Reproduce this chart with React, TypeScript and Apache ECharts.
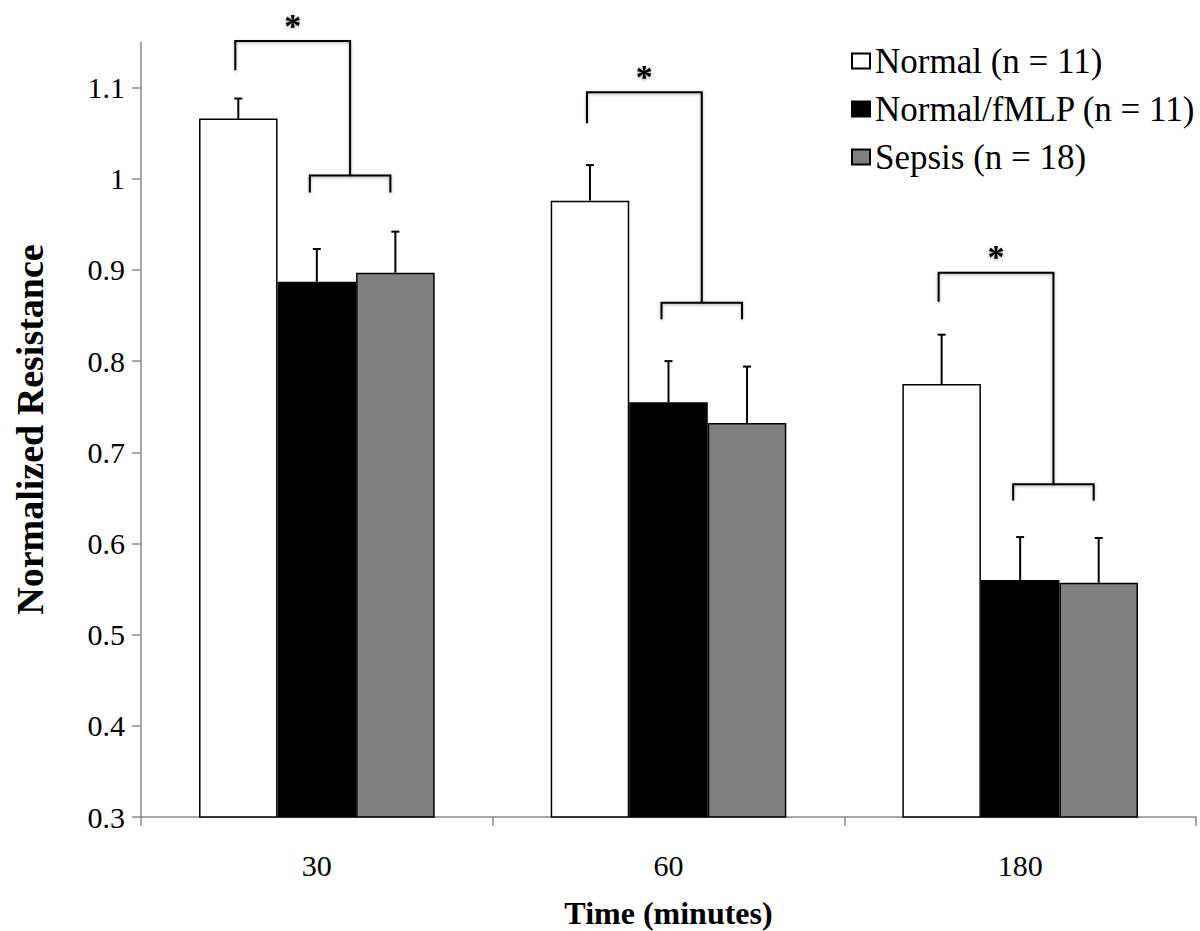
import React, { useEffect, useRef } from "react";
import * as echarts from "echarts";

const categories = ["30", "60", "180"];
const seriesNames = ["Normal (n = 11)", "Normal/fMLP (n = 11)", "Sepsis (n = 18)"];
const normalValues = [1.066, 0.976, 0.775];
const fmlpValues = [0.887, 0.755, 0.56];
const sepsisValues = [0.897, 0.732, 0.557];
const normalErr = [0.022, 0.039, 0.054];
const fmlpErr = [0.036, 0.045, 0.047];
const sepsisErr = [0.045, 0.062, 0.049];
const yTicks = [0.3, 0.4, 0.5, 0.6, 0.7, 0.8, 0.9, 1.0, 1.1];
// significance brackets (values on the resistance scale)
const bracketTop = [1.151, 1.095, 0.897];
const bracketLeftEnd = [1.119, 1.061, 0.865];
const bracketLow = [1.0035, 0.864, 0.665];
const bracketLowEnd = [0.985, 0.846, 0.647];

const FONT = '"Liberation Serif", "Times New Roman", serif';
const CAT_GAP = 0.33;

function errorSeries(values: number[], errs: number[], slot: number) {
  return {
    type: "custom",
    coordinateSystem: "cartesian2d",
    silent: true,
    z: 5,
    data: values.map((v, i) => [i, v, v + errs[i]]),
    encode: { x: 0, y: 1 },
    renderItem: (params: any, api: any) => {
      const i = api.value(0);
      const band = api.size([1, 0])[0];
      const bw = (band * (1 - CAT_GAP)) / 3;
      const cx = api.coord([i, 0])[0] + (slot - 1) * bw;
      const y0 = api.coord([i, api.value(1)])[1];
      const y1 = api.coord([i, api.value(2)])[1];
      const st = { stroke: "#000", lineWidth: 2 };
      return {
        type: "group",
        children: [
          { type: "line", shape: { x1: cx, y1: y0, x2: cx, y2: y1 }, style: st },
          { type: "line", shape: { x1: cx - 4, y1: y1, x2: cx + 4, y2: y1 }, style: st },
        ],
      };
    },
  };
}

export default function App() {
  const ref = useRef<HTMLDivElement>(null);
  useEffect(() => {
    if (!ref.current) return;
    const chart = echarts.init(ref.current, undefined, { renderer: "svg" });
    const barBase = {
      type: "bar",
      barGap: "0%",
      barCategoryGap: "33%",
    };
    const lineStyle = {
      stroke: "#000",
      lineWidth: 2,
      fill: null,
      shadowBlur: 3,
      shadowColor: "rgba(0,0,0,0.35)",
      shadowOffsetY: 1,
    };
    chart.setOption({
      animation: false,
      backgroundColor: "#fff",
      grid: { left: 141, right: 4, top: 42, bottom: 114, containLabel: false, outerBoundsMode: "none" },
      legend: {
        orient: "vertical",
        left: 846,
        top: 38,
        icon: "rect",
        itemWidth: 18,
        itemHeight: 15,
        itemGap: 12,
        data: seriesNames,
        textStyle: { fontFamily: FONT, fontSize: 35, color: "#000", lineHeight: 36 },
      },
      xAxis: {
        type: "category",
        data: categories,
        name: "Time (minutes)",
        nameLocation: "middle",
        nameGap: 80,
        nameTextStyle: { fontFamily: FONT, fontSize: 32, fontWeight: "bold", color: "#000" },
        axisLine: { lineStyle: { color: "#8a8a8a", width: 1.5 } },
        axisTick: { show: true, length: 9, lineStyle: { color: "#8a8a8a", width: 1.5 } },
        axisLabel: { fontFamily: FONT, fontSize: 30, color: "#000", margin: 33 },
      },
      yAxis: {
        type: "value",
        min: 0.3,
        max: 1.15,
        interval: 0.1,
        name: "Normalized Resistance",
        nameLocation: "middle",
        nameGap: 92,
        nameTextStyle: { fontFamily: FONT, fontSize: 38, fontWeight: "bold", color: "#000" },
        splitLine: { show: false },
        axisLine: { show: true, lineStyle: { color: "#8a8a8a", width: 1.5 } },
        axisTick: { show: true, length: 9, customValues: yTicks, lineStyle: { color: "#8a8a8a", width: 1.5 } },
        axisLabel: {
          fontFamily: FONT,
          fontSize: 30,
          color: "#000",
          margin: 16,
          customValues: yTicks,
          formatter: (v: number) => String(Math.round(v * 10) / 10),
        },
      },
      series: [
        {
          ...barBase,
          name: seriesNames[0],
          data: normalValues,
          itemStyle: { color: "#ffffff", borderColor: "#000", borderWidth: 1.5 },
        },
        {
          ...barBase,
          name: seriesNames[1],
          data: fmlpValues,
          itemStyle: { color: "#000000", borderColor: "#000", borderWidth: 1.5 },
        },
        {
          ...barBase,
          name: seriesNames[2],
          data: sepsisValues,
          itemStyle: { color: "#808080", borderColor: "#000", borderWidth: 1.5 },
        },
        errorSeries(normalValues, normalErr, 0),
        errorSeries(fmlpValues, fmlpErr, 1),
        errorSeries(sepsisValues, sepsisErr, 2),
        {
          type: "custom",
          coordinateSystem: "cartesian2d",
          silent: true,
          clip: false,
          z: 6,
          data: categories.map((c, i) => [i, bracketTop[i], bracketLeftEnd[i], bracketLow[i], bracketLowEnd[i]]),
          encode: { x: 0, y: 1 },
          renderItem: (params: any, api: any) => {
            const i = api.value(0);
            const band = api.size([1, 0])[0];
            const bw = (band * (1 - CAT_GAP)) / 3;
            const cx = api.coord([i, 0])[0];
            const xWhite = cx - bw - 3;
            const xLowL = cx - 7;
            const xLowR = cx + bw - 5;
            const xMid = (xLowL + xLowR) / 2;
            const yTop = api.coord([i, api.value(1)])[1];
            const yLeftEnd = api.coord([i, api.value(2)])[1];
            const yLow = api.coord([i, api.value(3)])[1];
            const yLowEnd = api.coord([i, api.value(4)])[1];
            return {
              type: "group",
              children: [
                {
                  type: "polyline",
                  shape: { points: [[xWhite, yLeftEnd], [xWhite, yTop], [xMid, yTop], [xMid, yLow]] },
                  style: lineStyle,
                },
                {
                  type: "polyline",
                  shape: { points: [[xLowL, yLowEnd], [xLowL, yLow], [xLowR, yLow], [xLowR, yLowEnd]] },
                  style: lineStyle,
                },
                {
                  type: "text",
                  x: (xWhite + xMid) / 2,
                  y: yTop - 16,
                  style: {
                    text: "*",
                    font: `bold 34px ${FONT}`,
                    fill: "#000",
                    align: "center",
                    verticalAlign: "middle",
                    textShadowBlur: 3,
                    textShadowColor: "rgba(0,0,0,0.4)",
                    textShadowOffsetY: 1,
                  },
                },
              ],
            };
          },
        },
      ],
    });
    return () => chart.dispose();
  }, []);
  return (
    <div
      ref={ref}
      style={{ position: "absolute", left: 0, top: 0, width: 1200, height: 931, background: "#fff" }}
    />
  );
}
